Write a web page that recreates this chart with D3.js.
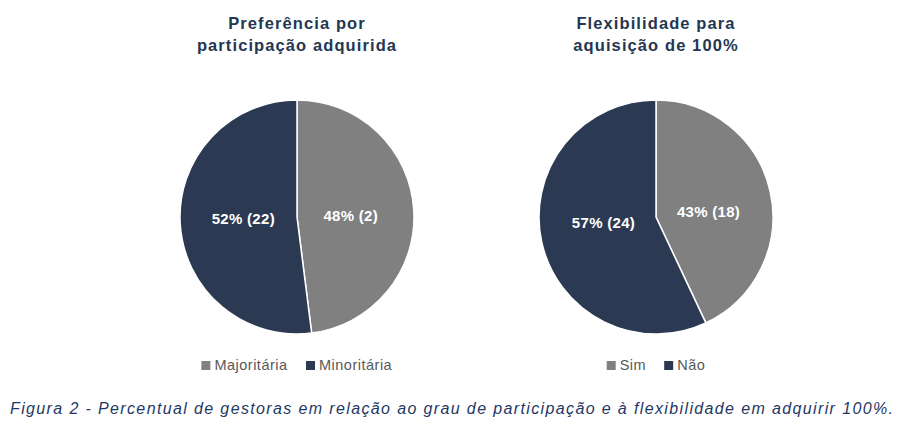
<!DOCTYPE html>
<html>
<head>
<meta charset="utf-8">
<script src="https://cdn.jsdelivr.net/npm/d3@7"></script>
<style>
  body { margin: 0; background: #fff; }
  svg { display: block; }
  text { font-family: "Liberation Sans", Arial, sans-serif; }
</style>
</head>
<body>
<div id="chart"></div>
<script>
// data
const pref_labels = ["Majoritária", "Minoritária"];
const pref_values = [48, 52];
const pref_counts = [2, 22];

const flex_labels = ["Sim", "Não"];
const flex_values = [43, 57];
const flex_counts = [18, 24];

const titles = [["Preferência por", "participação adquirida"], ["Flexibilidade para", "aquisição de 100%"]];
const caption = "Figura 2 - Percentual de gestoras em relação ao grau de participação e à flexibilidade em adquirir 100%.";

const width = 910;
const height = 440;
const colors = ["#808080", "#2B3A52"];

const svg = d3.select('#chart')
    .append('svg')
    .attr('width', width)
    .attr('height', height);

const color = d3.scaleOrdinal().domain([0, 1]).range(colors);

function drawPie(cx, title, labels, values, counts){
    const r = 117;
    const cy = 217;
    const g = svg.append("g");

    g.selectAll(".title")
        .data(title)
        .enter()
        .append("text")
        .attr("x", cx)
        .attr("y", (d, i) => 29 + i * 22)
        .attr("text-anchor", "middle")
        .attr("font-weight", "bold")
        .attr("font-size", "16.5px")
        .attr("letter-spacing", "1.1px")
        .attr("fill", "#243752")
        .text(d => d);

    const pie = d3.pie().sort(null).value(d => d);
    const arc = d3.arc().innerRadius(0).outerRadius(r);
    const arcs = pie(values);

    const pg = g.append("g").attr("transform", `translate(${cx},${cy})`);
    pg.selectAll("path")
        .data(arcs)
        .enter()
        .append("path")
        .attr("d", arc)
        .attr("fill", (d, i) => color(i))
        .attr("stroke", "#fff")
        .attr("stroke-width", 1.5);

    pg.selectAll(".lbl")
        .data(arcs)
        .enter()
        .append("text")
        .attr("x", d => {
            const a = (d.startAngle + d.endAngle) / 2;
            return Math.sin(a) * r * 0.46;
        })
        .attr("y", d => {
            const a = (d.startAngle + d.endAngle) / 2;
            return -Math.cos(a) * r * 0.5 * 0.45;
        })
        .attr("dy", "0.35em")
        .attr("text-anchor", "middle")
        .attr("font-weight", "bold")
        .attr("font-size", "15px")
        .attr("letter-spacing", "0.3px")
        .attr("fill", "#fff")
        .text((d, i) => values[i] + "% (" + counts[i] + ")");

    // legend
    const lg = g.append("g");
    const items = lg.selectAll("g")
        .data(labels)
        .enter()
        .append("g");
    items.append("rect")
        .attr("width", 9)
        .attr("height", 9)
        .attr("y", 361)
        .attr("fill", (d, i) => color(i));
    items.append("text")
        .attr("x", 13)
        .attr("y", 370)
        .attr("font-size", "14.5px")
        .attr("letter-spacing", "0.5px")
        .attr("fill", "#595959")
        .text(d => d);
    let x = 0;
    items.each(function(){
        d3.select(this).attr("transform", `translate(${x},0)`);
        x += this.getBBox().width + 18;
    });
    const total = x - 18;
    lg.attr("transform", `translate(${cx - total / 2},0)`);
}

drawPie(297, titles[0], pref_labels, pref_values, pref_counts);
drawPie(656, titles[1], flex_labels, flex_values, flex_counts);

svg.append("text")
    .attr("x", 10)
    .attr("y", 414)
    .attr("font-style", "italic")
    .attr("font-size", "16px")
    .attr("textLength", 883)
    .attr("lengthAdjust", "spacing")
    .attr("fill", "#1F3864")
    .text(caption);
</script>
</body>
</html>
